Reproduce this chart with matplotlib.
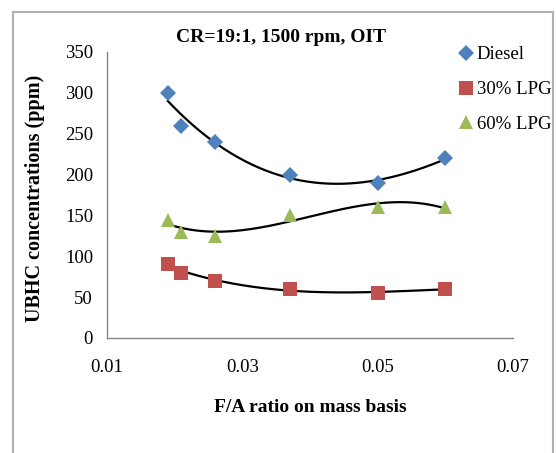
import numpy as np
import matplotlib
matplotlib.use('Agg')
import matplotlib.pyplot as plt
from matplotlib.patches import Rectangle
plt.rcParams['font.family'] = ['Liberation Serif', 'DejaVu Serif']
plt.rcParams['font.size'] = 13.5

# F/A ratio (mass basis) and UBHC (ppm)
fa = [0.019, 0.021, 0.026, 0.037, 0.050, 0.060]
diesel = [300, 260, 240, 200, 190, 220]
lpg30 = [90, 80, 70, 60, 55, 60]
lpg60 = [145, 130, 125, 150, 160, 160]

names = ['Diesel', '30% LPG', '60% LPG']
colors = ['#4F81BD', '#C0504D', '#9BBB59']
markers = ['D', 's', '^']
msizes = [8, 10, 10.5]

fig = plt.figure(figsize=(5.56, 4.53), dpi=100)
# grey outer chart border (bottom runs off the image)
fig.patches.append(Rectangle((13/556, -0.05), (553-13)/556, 1.05 - 12/453,
                             transform=fig.transFigure, fill=False,
                             edgecolor='#b0b0b0', lw=1.5))
ax = fig.add_axes([107/556, 1-338/453, (513-107)/556, (338-52)/453])

xs = np.linspace(min(fa), max(fa), 200)
for ys, nm, c, m, ms in zip([diesel, lpg30, lpg60], names, colors, markers, msizes):
    ax.plot(fa, ys, linestyle='none', marker=m, color=c, markersize=ms,
            markeredgewidth=0, label=nm)
    p = np.polyfit(fa, ys, 3)
    ax.plot(xs, np.polyval(p, xs), color='black', lw=1.6, zorder=1)

ax.set_xlim(0.01, 0.07)
ax.set_ylim(0, 350)
ax.set_xticks([0.01, 0.03, 0.05, 0.07])
ax.set_xticklabels(['0.01', '0.03', '0.05', '0.07'])
ax.set_yticks(range(0, 351, 50))
ax.tick_params(length=0, pad=10)
ax.tick_params(axis='x', pad=15)
for s in ['top', 'right']:
    ax.spines[s].set_visible(False)
for s in ['left', 'bottom']:
    ax.spines[s].set_color('#868686')
    ax.spines[s].set_linewidth(1.0)

fig.text(281/556, 1-38/453, 'CR=19:1, 1500 rpm, OIT', ha='center', va='center',
         fontweight='bold', fontsize=14)
fig.text(310/556, 1-407/453, 'F/A ratio on mass basis', ha='center', va='center',
         fontweight='bold', fontsize=14)
fig.text(35/556, 1-198/453, 'UBHC concentrations (ppm)', ha='center', va='center',
         rotation=90, fontweight='bold', fontsize=14.5)

fig.legend(loc='upper left', bbox_to_anchor=(456/556, 1-46/453), frameon=False,
           handletextpad=0.0, handlelength=1.1, labelspacing=0.95, fontsize=13.5,
           borderpad=0, borderaxespad=0)

fig.savefig('out.png', dpi=100)
